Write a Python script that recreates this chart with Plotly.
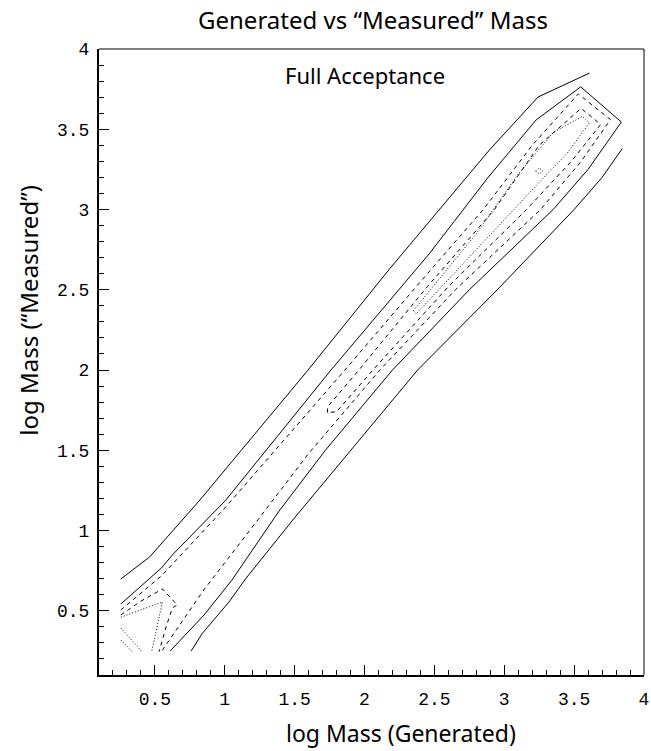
import plotly.graph_objects as go

# ---------------- data (contour lines, data coordinates) -------------
# level 1 (solid): two open branches
L1_x = [0.256, 0.462, 0.816, 1.596, 2.185, 2.894, 3.242, 3.61]
L1_y = [0.698, 0.835, 1.184, 2.000, 2.636, 3.371, 3.701, 3.85]
R1_x = [0.76, 0.84, 1.03, 1.15, 1.50, 2.00, 2.38, 2.95, 3.50, 3.70, 3.845]
R1_y = [0.25, 0.36, 0.555, 0.70, 1.08, 1.60, 2.00, 2.50, 3.00, 3.20, 3.38]

# level 2 (solid): one line from the left edge, round the top, down to the bottom edge
C2_x = [0.256, 0.547, 0.625, 1.008, 1.76, 2.114, 2.462, 2.887, 3.228, 3.547, 3.838,
        3.60, 3.35, 2.75, 2.20, 1.72, 1.384, 1.05, 0.852, 0.61]
C2_y = [0.542, 0.767, 0.848, 1.19, 2.0, 2.368, 2.723, 3.203, 3.558, 3.764, 3.545,
        3.25, 3.0, 2.5, 2.0, 1.5, 1.116, 0.69, 0.474, 0.25]

# level 3 (dashed)
C3_x = [0.256, 0.55, 1.0, 1.5, 1.86, 2.4, 2.85, 3.2, 3.53, 3.76,
        3.55, 3.26, 2.65, 2.11, 1.6, 1.24, 0.85, 0.55]
C3_y = [0.505, 0.72, 1.14, 1.64, 2.0, 2.55, 3.0, 3.4, 3.72, 3.56,
        3.30, 3.0, 2.5, 2.0, 1.48, 1.07, 0.63, 0.25]

# level 4 (dashed): long loop + lower-left piece
C4_x = [1.735, 1.735, 1.96, 2.45, 2.93, 3.25, 3.55, 3.69, 3.48, 3.16, 2.6, 2.06, 1.80, 1.735]
C4_y = [1.735, 1.77, 2.0, 2.52, 3.0, 3.40, 3.63, 3.53, 3.30, 3.0, 2.52, 2.0, 1.74, 1.735]
C4b_x = [0.256, 0.40, 0.554, 0.66, 0.625, 0.58, 0.53]
C4b_y = [0.474, 0.56, 0.636, 0.536, 0.518, 0.40, 0.245]

# level 5 (dotted)
C5_x = [2.35, 2.80, 3.10, 3.35, 3.56, 3.61, 3.45, 3.24, 2.80, 2.37, 2.35]
C5_y = [2.37, 2.85, 3.22, 3.48, 3.58, 3.54, 3.35, 3.16, 2.75, 2.35, 2.37]
C5b_x = [0.256, 0.554, 0.476]
C5b_y = [0.46, 0.555, 0.243]

# level 6 (dotted)
C6_x = [3.225, 3.25, 3.275, 3.25, 3.225]
C6_y = [3.24, 3.26, 3.24, 3.22, 3.24]
C6b_x = [0.256, 0.41]
C6b_y = [0.393, 0.243]
C6c_x = [0.256, 0.34]
C6c_y = [0.318, 0.243]

x_ticks = [0.5, 1, 1.5, 2, 2.5, 3, 3.5, 4]
y_ticks = [0.5, 1, 1.5, 2, 2.5, 3, 3.5, 4]
x_tick_text = ["0.5", "1", "1.5", "2", "2.5", "3", "3.5", "4"]
y_tick_text = ["0.5", "1", "1.5", "2", "2.5", "3", "3.5", "4"]

SOLID = "solid"
DASH = "4px,4px"
DOT = "1px,2px"

lines = [
    (L1_x, L1_y, SOLID), (R1_x, R1_y, SOLID),
    (C2_x, C2_y, SOLID),
    (C3_x, C3_y, DASH),
    (C4_x, C4_y, DASH), (C4b_x, C4b_y, DASH),
    (C5_x, C5_y, DOT), (C5b_x, C5b_y, DOT),
    (C6_x, C6_y, DOT), (C6b_x, C6b_y, DOT), (C6c_x, C6c_y, DOT),
]

fig = go.Figure()
for xs, ys, dash in lines:
    fig.add_trace(go.Scatter(x=xs, y=ys, mode="lines",
                             line=dict(color="black", width=1, dash=dash),
                             showlegend=False, hoverinfo="skip"))

TEXT_FONT = "Noto Sans"
TICK_FONT = "Liberation Mono"

axis_common = dict(
    showgrid=False, zeroline=False,
    showline=True, linecolor="black", linewidth=2,
    ticks="inside", ticklen=10, tickwidth=1, tickcolor="black",
    minor=dict(ticks="inside", ticklen=5, tickwidth=1, tickcolor="black", dtick=0.1),
    tickfont=dict(family=TICK_FONT, size=18, color="black"),
    ticklabeloverflow="allow",
)

fig.update_layout(
    width=651, height=751,
    margin=dict(l=99, r=2, t=49, b=76),
    paper_bgcolor="white", plot_bgcolor="white",
    xaxis=dict(range=[0.1, 4.0], tickvals=x_ticks, ticktext=x_tick_text,
               ticklabelstandoff=6, **axis_common),
    yaxis=dict(range=[0.1, 4.0], tickvals=y_ticks, ticktext=y_tick_text,
               ticklabelstandoff=4, **axis_common),
    shapes=[
        dict(type="line", xref="paper", yref="paper", x0=0, x1=1, y0=1, y1=1,
             line=dict(color="black", width=1)),
        dict(type="line", xref="paper", yref="paper", x0=1, x1=1, y0=0, y1=1,
             line=dict(color="black", width=1)),
    ],
    annotations=[
        dict(text="Generated vs \u201cMeasured\u201d Mass", xref="paper", yref="paper",
             x=(376 - 99) / 550, y=(675 - 20) / 626, xanchor="center", yanchor="middle",
             showarrow=False, font=dict(family=TEXT_FONT, size=24, color="black")),
        dict(text="log Mass (Generated)", xref="paper", yref="paper",
             x=(404 - 99) / 550, y=(675 - 733) / 626, xanchor="center", yanchor="middle",
             showarrow=False, font=dict(family=TEXT_FONT, size=23, color="black")),
        dict(text="log Mass (\u201cMeasured\u201d)", xref="paper", yref="paper",
             x=(27 - 99) / 550, y=(675 - 310) / 626, xanchor="center", yanchor="middle",
             textangle=-90,
             showarrow=False, font=dict(family=TEXT_FONT, size=24, color="black")),
        dict(text="Full Acceptance", x=2.0, y=3.84, xref="x", yref="y",
             showarrow=False, font=dict(family=TEXT_FONT, size=22, color="black")),
    ],
)

fig.write_html("out.html")
